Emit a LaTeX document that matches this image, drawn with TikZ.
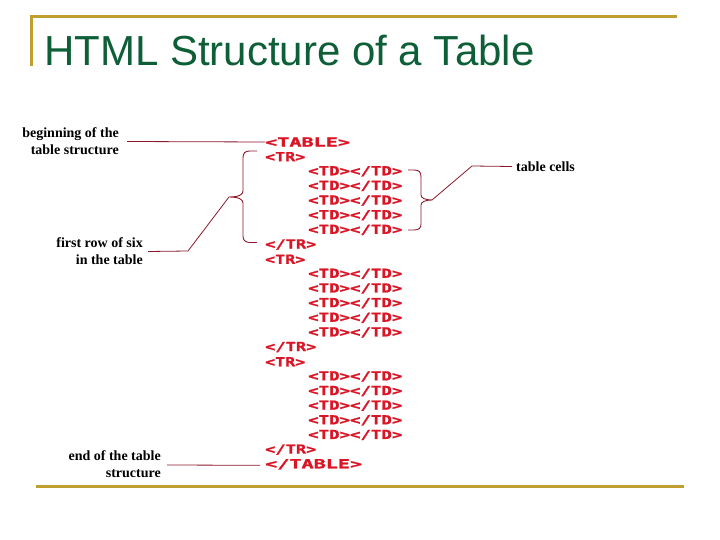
\documentclass[tikz,border=0pt]{standalone}
\usepackage{graphicx}
\usepackage{fontspec}
\setmainfont{Liberation Serif}
\newfontfamily\titlefont{Liberation Sans}
\newfontfamily\tagfont{DejaVu Sans Mono Bold}[FakeBold=1.2]
\definecolor{gold}{RGB}{192,158,48}
\definecolor{titlegreen}{RGB}{14,95,56}
\definecolor{tagred}{RGB}{218,22,38}
\definecolor{bracered}{RGB}{140,24,44}
\newcommand\htmltag[2]{\scalebox{#1}[1]{\tagfont\fontsize{12.5}{12.5}\selectfont #2}}
\tikzset{
  tagn/.style={anchor=west, inner sep=0pt, text=tagred},
  lbl/.style={inner sep=0pt, align=right, font=\bfseries\fontsize{14}{17}\selectfont},
  brace/.style={draw=bracered, line width=0.9pt},
  lead/.style={draw=bracered, line width=0.8pt},
  goldline/.style={draw=gold, line width=3pt}
}
\begin{document}
\begin{tikzpicture}[x=1pt,y=-1pt]
\useasboundingbox (0,0) rectangle (720,540);
% frame lines
\draw[goldline] (29.5,17) -- (677,17);
\draw[goldline] (31,15.5) -- (31,66);
\draw[goldline] (36,486) -- (684,486);
% title
\node[anchor=base west, inner sep=0pt, text=titlegreen, font=\titlefont\fontsize{42}{42}\selectfont] (title) at (44,66) {HTML Structure of a Table};
% tags
\node[tagn] (ttable) at (265,142) {\htmltag{1.61}{<TABLE>}};
\node[tagn] (tr1) at (265,156.65) {\htmltag{1.33}{<TR>}};
\node[tagn] (etr1) at (265,244.55) {\htmltag{1.36}{</TR>}};
\node[tagn] (tr2) at (265,259.2) {\htmltag{1.33}{<TR>}};
\node[tagn] (etr2) at (265,347.1) {\htmltag{1.36}{</TR>}};
\node[tagn] (tr3) at (265,361.75) {\htmltag{1.33}{<TR>}};
\node[tagn] (etr3) at (265,449.65) {\htmltag{1.36}{</TR>}};
\node[tagn] (etable) at (265,464.3) {\htmltag{1.61}{</TABLE>}};
\foreach \b/\s in {0/2,1/9,2/16} {
  \foreach \k in {0,...,4} {
    \pgfmathsetmacro\yy{142+14.65*(\s+\k)}
    \node[tagn] (td-\b-\k) at (308,\yy) {\htmltag{1.39}{<TD></TD>}};
  }
}
% labels
\node[lbl, anchor=east] (lbegin) at (119,141.5) {beginning of the\\table structure};
\node[lbl, anchor=east] (lrow) at (143,251.5) {first row of six\\in the table};
\node[lbl, anchor=east] (lend) at (161,464) {end of the table\\structure};
\node[lbl, anchor=west] (lcells) at (516,166.5) {table cells};
% braces
\coordinate (lbtip) at (229,197);
\coordinate (rbtip) at (432,200);
\draw[brace] (257,151) -- (250,151) .. controls (245,151) and (243,153) .. (243,158)
  -- (243,191) .. controls (243,195) and (238,197) .. (lbtip)
  .. controls (238,197) and (243,199) .. (243,203)
  -- (243,236) .. controls (243,240) and (245,242.5) .. (250,242.5) -- (257,242.5);
\draw[brace] (408,170) -- (414,170) .. controls (419,170) and (421,172) .. (421,177)
  -- (421,195) .. controls (421,198) and (425,200) .. (rbtip)
  .. controls (425,200) and (421,202) .. (421,205)
  -- (421,224) .. controls (421,228) and (419,230) .. (414,230) -- (408,230);
% leaders
\draw[lead] ([xshift=8pt]lbegin.east) -- (ttable.west);
\draw[lead] ([xshift=5pt]lrow.east) -- (188,251) -- (lbtip);
\draw[lead] ([xshift=6pt,yshift=-1pt]lend.east) -- ([xshift=-5pt,yshift=-1pt]etable.west);
\draw[lead] (rbtip) -- (472,166) -- ([xshift=-4pt]lcells.west);
\end{tikzpicture}
\end{document}
